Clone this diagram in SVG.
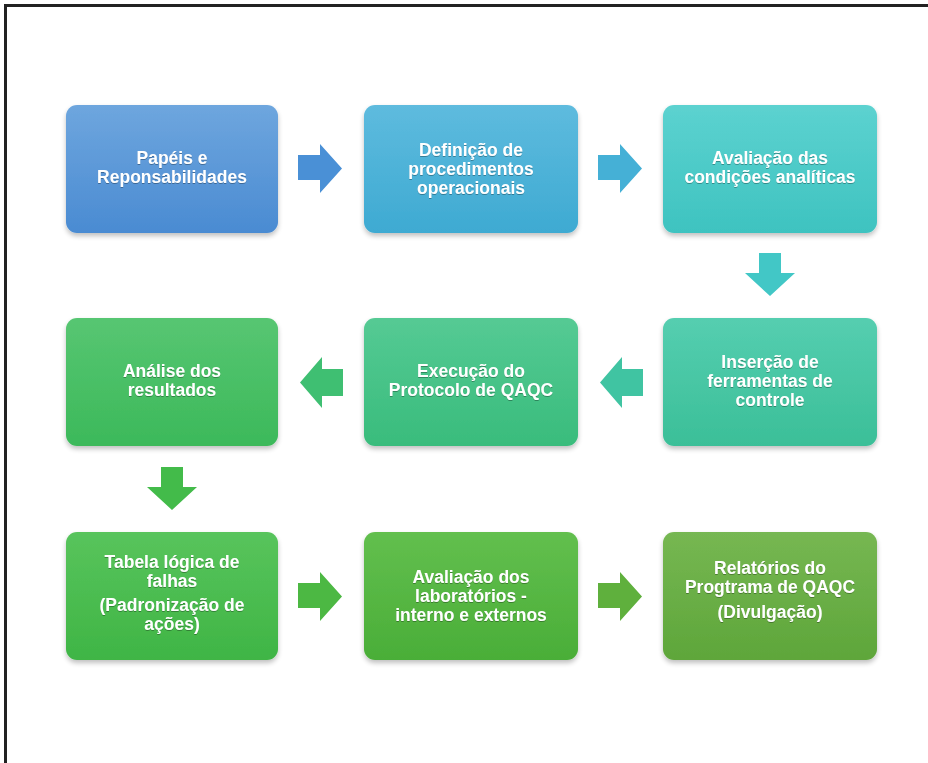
<svg xmlns="http://www.w3.org/2000/svg" width="928" height="763" viewBox="0 0 928 763">
<style>
.t{font-family:"Liberation Sans",Arial,sans-serif;font-weight:bold;font-size:17.5px;fill:#fff;text-anchor:middle}
.box{filter:url(#sh)}
</style>
<defs>
<filter id="sh" x="-10%" y="-10%" width="120%" height="125%">
<feGaussianBlur in="SourceAlpha" stdDeviation="2.5"/>
<feOffset dy="3"/>
<feComponentTransfer><feFuncA type="linear" slope="0.25"/></feComponentTransfer>
<feMerge><feMergeNode/><feMergeNode in="SourceGraphic"/></feMerge>
</filter>
<filter id="ts"><feDropShadow dx="0" dy="1" stdDeviation="0.6" flood-color="#000" flood-opacity="0.3"/></filter>
<linearGradient id="g1" x1="0" y1="0" x2="0" y2="1"><stop offset="0" stop-color="#6ea6de"/><stop offset="1" stop-color="#4a8bd2"/></linearGradient>
<linearGradient id="g2" x1="0" y1="0" x2="0" y2="1"><stop offset="0" stop-color="#5ebbde"/><stop offset="1" stop-color="#3eaad2"/></linearGradient>
<linearGradient id="g3" x1="0" y1="0" x2="0" y2="1"><stop offset="0" stop-color="#5cd2d0"/><stop offset="1" stop-color="#3ec3c0"/></linearGradient>
<linearGradient id="g4" x1="0" y1="0" x2="0" y2="1"><stop offset="0" stop-color="#55ceb0"/><stop offset="1" stop-color="#3bbf98"/></linearGradient>
<linearGradient id="g5" x1="0" y1="0" x2="0" y2="1"><stop offset="0" stop-color="#55ca94"/><stop offset="1" stop-color="#39bc7c"/></linearGradient>
<linearGradient id="g6" x1="0" y1="0" x2="0" y2="1"><stop offset="0" stop-color="#57c672"/><stop offset="1" stop-color="#3cb95a"/></linearGradient>
<linearGradient id="g7" x1="0" y1="0" x2="0" y2="1"><stop offset="0" stop-color="#58c45c"/><stop offset="1" stop-color="#3fb545"/></linearGradient>
<linearGradient id="g8" x1="0" y1="0" x2="0" y2="1"><stop offset="0" stop-color="#62bf4e"/><stop offset="1" stop-color="#4aae38"/></linearGradient>
<linearGradient id="g9" x1="0" y1="0" x2="0" y2="1"><stop offset="0" stop-color="#76b752"/><stop offset="1" stop-color="#5ea63a"/></linearGradient>
</defs>
<rect width="928" height="763" fill="#fff"/>
<path d="M5.5 763 V5.5 H928" fill="none" stroke="#222" stroke-width="3"/>

<g id="connectors">
<path d="M298 155 H320 V144 L342 168.5 L320 193 V180 H298 Z" fill="#4a90d6"/>
<path d="M598 155 H620 V144 L642 168.5 L620 193 V180 H598 Z" fill="#45b0d6"/>
<path d="M759 253 H781 V273 H795 L770 296 L745 273 H759 Z" fill="#42c7c6"/>
<path d="M643 369 H622 V357 L600 382.5 L622 408 V396 H643 Z" fill="#40c4a2"/>
<path d="M343 369 H322 V357 L300 382.5 L322 408 V396 H343 Z" fill="#3fbf72"/>
<path d="M161 467 H183 V487 H197 L172 510 L147 487 H161 Z" fill="#43bb4a"/>
<path d="M298 583 H320 V572 L342 596.5 L320 621 V608 H298 Z" fill="#4cb843"/>
<path d="M598 583 H620 V572 L642 596.5 L620 621 V608 H598 Z" fill="#5fb03d"/>
</g>

<g id="n1" class="box"><rect x="66" y="105" width="212" height="128" rx="11" fill="url(#g1)"/>
<g filter="url(#ts)"><text class="t" x="172" y="164">Papéis e</text><text class="t" x="172" y="183">Reponsabilidades</text></g></g>

<g id="n2" class="box"><rect x="364" y="105" width="214" height="128" rx="11" fill="url(#g2)"/>
<g filter="url(#ts)"><text class="t" x="471" y="156">Definição de</text><text class="t" x="471" y="175">procedimentos</text><text class="t" x="471" y="194">operacionais</text></g></g>

<g id="n3" class="box"><rect x="663" y="105" width="214" height="128" rx="11" fill="url(#g3)"/>
<g filter="url(#ts)"><text class="t" x="770" y="164">Avaliação das</text><text class="t" x="770" y="183">condições analíticas</text></g></g>

<g id="n4" class="box"><rect x="663" y="318" width="214" height="128" rx="11" fill="url(#g4)"/>
<g filter="url(#ts)"><text class="t" x="770" y="368">Inserção de</text><text class="t" x="770" y="387">ferramentas de</text><text class="t" x="770" y="406">controle</text></g></g>

<g id="n5" class="box"><rect x="364" y="318" width="214" height="128" rx="11" fill="url(#g5)"/>
<g filter="url(#ts)"><text class="t" x="471" y="377">Execução do</text><text class="t" x="471" y="396">Protocolo de QAQC</text></g></g>

<g id="n6" class="box"><rect x="66" y="318" width="212" height="128" rx="11" fill="url(#g6)"/>
<g filter="url(#ts)"><text class="t" x="172" y="377">Análise dos</text><text class="t" x="172" y="396">resultados</text></g></g>

<g id="n7" class="box"><rect x="66" y="532" width="212" height="128" rx="11" fill="url(#g7)"/>
<g filter="url(#ts)"><text class="t" x="172" y="568">Tabela lógica de</text><text class="t" x="172" y="587">falhas</text><text class="t" x="172" y="611">(Padronização de</text><text class="t" x="172" y="630">ações)</text></g></g>

<g id="n8" class="box"><rect x="364" y="532" width="214" height="128" rx="11" fill="url(#g8)"/>
<g filter="url(#ts)"><text class="t" x="471" y="583">Avaliação dos</text><text class="t" x="471" y="602">laboratórios -</text><text class="t" x="471" y="621">interno e externos</text></g></g>

<g id="n9" class="box"><rect x="663" y="532" width="214" height="128" rx="11" fill="url(#g9)"/>
<g filter="url(#ts)"><text class="t" x="770" y="574">Relatórios do</text><text class="t" x="770" y="593">Progtrama de QAQC</text><text class="t" x="770" y="618">(Divulgação)</text></g></g>
</svg>
